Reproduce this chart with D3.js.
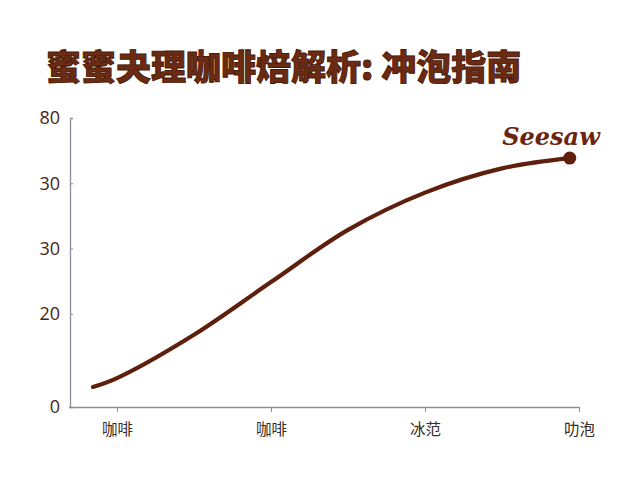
<!DOCTYPE html>
<html><head><meta charset="utf-8">
<script src="https://cdn.jsdelivr.net/npm/d3@7"></script>
<style>body{margin:0;background:#fff}</style>
</head><body>
<svg id="c" width="640" height="480"></svg>
<script>
const title = "蜜蜜夬理咖啡焙解析: 冲泡指南";
const categories = ["咖啡", "咖啡", "冰范", "叻泡"];
const categoryPos = [0, 1, 2, 3];
const yTickValues = [0, 20, 34, 48, 62];
const yTickLabels = ["0", "20", "30", "30", "80"];
const curveX = [-0.156, 0, 0.5, 1, 1.5, 2, 2.5, 2.94];
const curveY = [4.3, 6.2, 15.5, 26.8, 38.0, 46.0, 51.2, 53.4];
const label = "Seesaw";

const svg = d3.select("#c");
const brown = "#5e1f0c";
const x = d3.scaleLinear().domain([0, 3]).range([117, 579]);
const y = d3.scaleLinear().domain([0, 62]).range([407, 118]);

svg.append("text").attr("x", 46).attr("y", 80)
  .attr("font-family", "Noto Sans CJK SC").attr("font-weight", 900)
  .attr("font-size", 35).attr("fill", "#6b2a12")
  .attr("stroke", "#4a1a08").attr("stroke-width", 0.9)
  .text(title);

// y axis
const ya = svg.append("g").attr("transform", "translate(70,0)")
  .call(d3.axisLeft(y).tickValues(yTickValues).tickFormat((d, i) => yTickLabels[i]).tickSize(-3).tickPadding(10));
ya.select(".domain").attr("stroke", "#8a8f96").attr("stroke-width", 1.3);
ya.selectAll(".tick line").attr("stroke", "#8a8f96");
ya.selectAll("text").attr("font-family", "Open Sans").attr("font-size", 18).attr("fill", "#4a2418");

// x axis
const xa = svg.append("g").attr("transform", "translate(0,407)")
  .call(d3.axisBottom(x).tickValues(categoryPos).tickFormat((d, i) => categories[i]).tickSize(5).tickPadding(12).tickSizeOuter(0));
xa.select(".domain").attr("stroke", "#8a8f96").attr("stroke-width", 1.3).attr("d", `M69,0.5H${x(3)}`);
xa.selectAll(".tick line").attr("stroke", "#8a8f96");
xa.selectAll("text").attr("font-family", "Noto Sans CJK SC").attr("font-size", 15.5).attr("fill", "#3a2a24");

// line
const pts = curveX.map((v, i) => [v, curveY[i]]);
svg.append("path").datum(pts)
  .attr("fill", "none").attr("stroke", brown).attr("stroke-width", 4.2).attr("stroke-linecap", "round")
  .attr("d", d3.line().x(d => x(d[0])).y(d => y(d[1])).curve(d3.curveCatmullRom.alpha(0.5)));
const last = pts[pts.length - 1];
svg.append("circle").attr("cx", x(last[0])).attr("cy", y(last[1])).attr("r", 6.5).attr("fill", brown);

svg.append("text").attr("x", 551).attr("y", 145).attr("text-anchor", "middle")
  .attr("font-family", "DejaVu Serif").attr("font-style", "italic").attr("font-weight", "bold")
  .attr("font-size", 24).attr("fill", "#6b2410").text(label);
</script>
</body></html>
